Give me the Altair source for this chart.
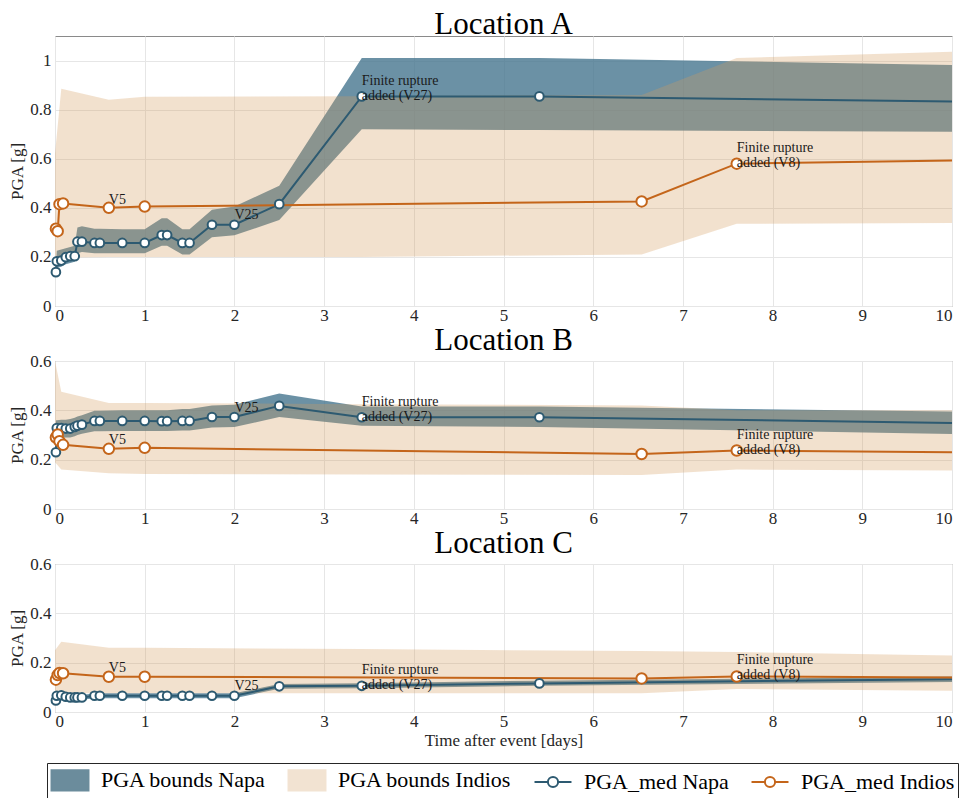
import altair as alt
import pandas as pd

# ---------------- data ----------------
NAPA_T = [0.01, 0.02, 0.07, 0.12, 0.17, 0.22, 0.25, 0.30, 0.44, 0.50, 0.75, 1.00,
          1.19, 1.25, 1.42, 1.50, 1.75, 2.00, 2.50, 3.42, 5.40, 10.0]
NAPA_MARK = [1, 1, 1, 1, 1, 1, 1, 1, 1, 1, 1, 1, 1, 1, 1, 1, 1, 1, 1, 1, 1, 0]

INDIOS_T = [0.01, 0.03, 0.05, 0.09, 0.60, 1.00, 6.54, 7.60, 10.0]
INDIOS_MARK = [1, 1, 1, 1, 1, 1, 1, 1, 0]
IND_BAND_T = [0.0, 0.07, 0.60, 1.00, 3.42, 6.54, 7.60, 10.0]

# Location A
A_NAPA_MED = [0.138, 0.182, 0.185, 0.199, 0.203, 0.203, 0.262, 0.262, 0.257, 0.257, 0.257, 0.257,
              0.289, 0.289, 0.257, 0.257, 0.331, 0.331, 0.415, 0.854, 0.854, 0.833]
A_NAPA_LO = [0.120, 0.155, 0.160, 0.170, 0.175, 0.180, 0.215, 0.220, 0.215, 0.215, 0.215, 0.215,
             0.245, 0.245, 0.210, 0.210, 0.280, 0.288, 0.350, 0.720, 0.717, 0.710]
A_NAPA_HI = [0.165, 0.225, 0.230, 0.235, 0.240, 0.245, 0.320, 0.325, 0.315, 0.315, 0.313, 0.313,
             0.357, 0.357, 0.313, 0.313, 0.392, 0.405, 0.490, 1.010, 1.010, 0.982]
A_IND_MED = [0.315, 0.305, 0.415, 0.418, 0.400, 0.405, 0.426, 0.580, 0.593]
A_IND_LO = [0.200, 0.198, 0.200, 0.200, 0.200, 0.210, 0.335, 0.338]
A_IND_HI = [0.620, 0.885, 0.840, 0.852, 0.855, 0.860, 1.010, 1.036]

# Location B
B_NAPA_MED = [0.230, 0.328, 0.328, 0.326, 0.326, 0.333, 0.338, 0.342, 0.357, 0.357, 0.357, 0.357,
              0.356, 0.356, 0.357, 0.357, 0.373, 0.373, 0.418, 0.372, 0.372, 0.349]
B_NAPA_LO = [0.210, 0.290, 0.290, 0.290, 0.290, 0.295, 0.300, 0.305, 0.315, 0.315, 0.316, 0.316,
             0.316, 0.316, 0.318, 0.318, 0.330, 0.332, 0.373, 0.338, 0.332, 0.304]
B_NAPA_HI = [0.360, 0.360, 0.362, 0.362, 0.365, 0.370, 0.375, 0.380, 0.398, 0.398, 0.400, 0.400,
             0.400, 0.400, 0.405, 0.405, 0.420, 0.423, 0.468, 0.416, 0.416, 0.395]
B_IND_MED = [0.290, 0.302, 0.275, 0.260, 0.244, 0.248, 0.223, 0.237, 0.230]
B_IND_LO = [0.190, 0.160, 0.145, 0.142, 0.140, 0.138, 0.160, 0.156]
B_IND_HI = [0.600, 0.475, 0.430, 0.430, 0.425, 0.420, 0.400, 0.400]

# Location C
C_NAPA_MED = [0.047, 0.066, 0.068, 0.062, 0.059, 0.059, 0.059, 0.059, 0.066, 0.066, 0.066, 0.066,
              0.066, 0.066, 0.066, 0.066, 0.066, 0.066, 0.104, 0.106, 0.116, 0.133]
C_NAPA_LO = [0.038, 0.056, 0.058, 0.053, 0.050, 0.050, 0.050, 0.050, 0.056, 0.056, 0.056, 0.056,
             0.056, 0.056, 0.056, 0.056, 0.056, 0.056, 0.094, 0.096, 0.106, 0.122]
C_NAPA_HI = [0.056, 0.076, 0.078, 0.072, 0.069, 0.069, 0.069, 0.069, 0.076, 0.076, 0.076, 0.076,
             0.076, 0.076, 0.076, 0.076, 0.076, 0.076, 0.114, 0.117, 0.127, 0.144]
C_IND_MED = [0.131, 0.150, 0.158, 0.157, 0.143, 0.143, 0.136, 0.144, 0.140]
C_IND_LO = [0.076, 0.076, 0.076, 0.076, 0.076, 0.076, 0.093, 0.086]
C_IND_HI = [0.250, 0.285, 0.260, 0.260, 0.255, 0.247, 0.243, 0.229]

# annotations
ANNOT_TEXT = ["V5", "V25", "Finite rupture\nadded (V27)", "Finite rupture\nadded (V8)"]
ANNOT_X = [0.60, 2.00, 3.42, 7.60]
A_ANNOT_Y = [0.430, 0.370, 0.918, 0.644]
B_ANNOT_Y = [0.281, 0.410, 0.435, 0.300]
C_ANNOT_Y = [0.177, 0.104, 0.171, 0.210]

PANEL_TITLES = ["Location A", "Location B", "Location C"]
X_TICKS = [0, 1, 2, 3, 4, 5, 6, 7, 8, 9, 10]
A_Y_TICKS = [0, 0.2, 0.4, 0.6, 0.8, 1.0]
BC_Y_TICKS = [0, 0.2, 0.4, 0.6]

SERIES = ["PGA bounds Napa", "PGA bounds Indios", "PGA_med Napa", "PGA_med Indios"]

# ---------------- styling ----------------
FONT = "Liberation Serif"
NAPA_LINE = "#2d5a71"
IND_LINE = "#c4651a"
NAPA_BAND = "#46768f"
IND_BAND = "#d49a5e"
LINE_SYMBOL = "M-1.45,0H-0.4M0.4,0H1.45M0.4,0A0.4,0.4,0,1,1,-0.4,0A0.4,0.4,0,1,1,0.4,0Z"
RECT_SYMBOL = "M-1.45,-0.8H1.45V0.8H-1.45Z"
LEG_FILL = ["#6b8c9c", "#f2e3d2", "#ffffff", "#ffffff"]
LEG_STROKE = ["#6b8c9c", "#f2e3d2", NAPA_LINE, IND_LINE]
LEG_SHAPE = [RECT_SYMBOL, RECT_SYMBOL, LINE_SYMBOL, LINE_SYMBOL]


def panel(title, napa_med, napa_lo, napa_hi, ind_med, ind_lo, ind_hi, annot_y,
          ymax, yticks, height, xtitle, legend):
    napa = pd.DataFrame({"t": NAPA_T, "med": napa_med, "lo": napa_lo,
                         "hi": napa_hi, "mark": NAPA_MARK})
    ind = pd.DataFrame({"t": INDIOS_T, "med": ind_med, "mark": INDIOS_MARK})
    ind_band = pd.DataFrame({"t": IND_BAND_T, "lo": ind_lo, "hi": ind_hi})
    ann = pd.DataFrame({"t": ANNOT_X, "y": annot_y, "label": ANNOT_TEXT})

    xscale = alt.Scale(domain=[0, 10], nice=False)
    yscale = alt.Scale(domain=[0, ymax], nice=False)
    xkw = dict(values=X_TICKS, format="d", labelPadding=1)
    if xtitle:
        xkw["title"] = "Time after event [days]"
        xkw["titlePadding"] = 3
    else:
        xkw["title"] = None
    xax = alt.Axis(**xkw)
    yax = alt.Axis(values=yticks, format="~g", title="PGA [g]", labelPadding=4,
                   titlePadding=3)

    X = alt.X("t:Q", scale=xscale, axis=xax)
    Xn = alt.X("t:Q", scale=xscale)

    napa_band = alt.Chart(napa).mark_area(color=NAPA_BAND, opacity=0.8).encode(
        x=X, y=alt.Y("lo:Q", scale=yscale, axis=yax), y2="hi:Q")
    ind_area = alt.Chart(ind_band).mark_area(color=IND_BAND, opacity=0.3).encode(
        x=Xn, y=alt.Y("lo:Q", scale=yscale), y2="hi:Q")
    napa_line = alt.Chart(napa).mark_line(color=NAPA_LINE, strokeWidth=2).encode(
        x=Xn, y=alt.Y("med:Q", scale=yscale))
    ind_line = alt.Chart(ind).mark_line(color=IND_LINE, strokeWidth=2).encode(
        x=Xn, y=alt.Y("med:Q", scale=yscale))
    napa_pts = alt.Chart(napa).transform_filter("datum.mark == 1").mark_point(
        filled=True, fill="white", stroke=NAPA_LINE, strokeWidth=2, size=75, opacity=1
    ).encode(x=Xn, y=alt.Y("med:Q", scale=yscale))
    ind_pts = alt.Chart(ind).transform_filter("datum.mark == 1").mark_point(
        filled=True, fill="white", stroke=IND_LINE, strokeWidth=2, size=110, opacity=1
    ).encode(x=Xn, y=alt.Y("med:Q", scale=yscale))
    text = alt.Chart(ann).mark_text(align="left", baseline="middle", font=FONT,
                                    fontSize=14, lineBreak="\n", lineHeight=15,
                                    color="#1a1a1a").encode(
        x=Xn, y=alt.Y("y:Q", scale=yscale), text="label:N")

    layers = [napa_band, ind_area, napa_line, ind_line, napa_pts, ind_pts, text]
    if legend:
        leg = alt.Legend(orient="none", legendX=-8, legendY=727, direction="horizontal",
                         title=None, labelFont=FONT, labelFontSize=22, labelLimit=600,
                         symbolSize=650, symbolStrokeWidth=2, strokeColor="#262626",
                         fillColor="white", padding=3, columnPadding=18, labelOffset=17,
                         symbolOffset=6, labelColor="#000000")
        legdf = pd.DataFrame({"series": SERIES})
        leg_layer = alt.Chart(legdf).transform_filter("false").mark_point(
            filled=True, opacity=1).encode(
            fill=alt.Fill("series:N", scale=alt.Scale(domain=SERIES, range=LEG_FILL),
                          legend=leg),
            stroke=alt.Stroke("series:N", scale=alt.Scale(domain=SERIES, range=LEG_STROKE),
                              legend=leg),
            shape=alt.Shape("series:N", scale=alt.Scale(domain=SERIES, range=LEG_SHAPE),
                            legend=leg),
        )
        layers.append(leg_layer)

    return alt.layer(*layers).properties(
        width=897, height=height,
        title=alt.TitleParams(title, anchor="middle", offset=-5))


pa = panel(PANEL_TITLES[0], A_NAPA_MED, A_NAPA_LO, A_NAPA_HI, A_IND_MED, A_IND_LO, A_IND_HI,
           A_ANNOT_Y, 1.1, A_Y_TICKS, 270, False, False)
pb = panel(PANEL_TITLES[1], B_NAPA_MED, B_NAPA_LO, B_NAPA_HI, B_IND_MED, B_IND_LO, B_IND_HI,
           B_ANNOT_Y, 0.6, BC_Y_TICKS, 148, False, False)
pc = panel(PANEL_TITLES[2], C_NAPA_MED, C_NAPA_LO, C_NAPA_HI, C_IND_MED, C_IND_LO, C_IND_HI,
           C_ANNOT_Y, 0.6, BC_Y_TICKS, 148, True, True)

chart = alt.vconcat(pa, pb, pc, spacing=0).resolve_scale(y="independent").properties(
    padding=0, background="white"
).configure_axis(
    labelFont=FONT, labelFontSize=17, titleFont=FONT, titleFontSize=17,
    titleFontWeight="normal", labelColor="#262626", titleColor="#262626",
    gridColor="#e6e6e6", domain=False, ticks=False
).configure_view(
    stroke="#8a8a8a", strokeWidth=1
).configure_title(
    font=FONT, fontSize=31, fontWeight="normal", color="#000000"
)

chart.save("out.html", embed_options={"renderer": "svg", "actions": False})
